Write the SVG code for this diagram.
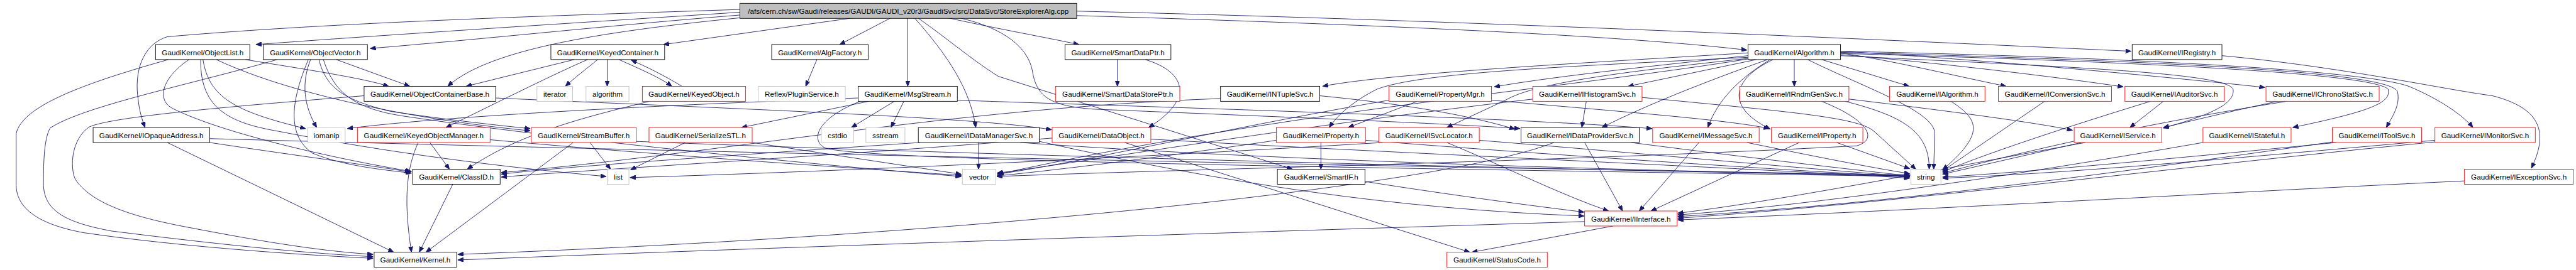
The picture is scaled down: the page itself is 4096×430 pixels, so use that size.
<svg xmlns="http://www.w3.org/2000/svg" width="4096" height="430" viewBox="0 0 4096 430">
<defs>
<style>
.n rect{fill:#ffffff;stroke-width:1}
.nb rect{stroke:#000000}
.nr rect{stroke:#ff0000}
.ng rect{stroke:#bfbfbf}
.nm rect{fill:#bfbfbf;stroke:#000000}
.n text{font-family:"Liberation Sans",Arial,Helvetica,sans-serif;font-size:13.2px;fill:#000000;text-anchor:middle}
.e path{fill:none;stroke:#191970;stroke-width:1;marker-end:url(#a)}
</style>
<marker id="a" markerUnits="userSpaceOnUse" markerWidth="11" markerHeight="8" refX="10" refY="4" orient="auto"><path d="M0,0 L10,4 L0,8 z" fill="#191970" stroke="#191970" stroke-width="1"/></marker>
</defs>
<rect x="0" y="0" width="4096" height="430" fill="#ffffff"/>
<g transform="scale(0.88658)">
<g id="edges" class="e">
<path d="M1327,22 C1050,40 700,62 459,80"/>
<path d="M1327,27 C1100,45 850,72 664,87"/>
<path d="M1531,32 L1190,80"/>
<path d="M1598,32 L1506,80"/>
<path d="M1628,32 L1628,155"/>
<path d="M1640,32 C1700,100 1740,160 1750,229"/>
<path d="M1700,32 C1780,50 1880,68 1935,80"/>
<path d="M1931,28 C2400,42 2900,62 3133,90"/>
<path d="M1931,20 C2600,36 3300,68 3822,92"/>
<path d="M1327,17 C1000,28 600,40 300,66 C255,80 240,130 248,180 C250,200 255,215 260,229"/>
<path d="M1327,32 C1100,55 880,85 803,155"/>
<path d="M1646,32 C1700,70 1740,105 1790,137 L2318,304"/>
<path d="M1720,32 C1800,50 1845,85 1852,130 C1860,175 1885,190 1960,196 C2300,210 2600,222 2726,231"/>
<path d="M889,176 C1300,195 1750,210 1886,233"/>
<path d="M302,107 C150,150 40,190 29,240 L29,333 C30,380 80,405 150,418 C300,440 500,456 669,464"/>
<path d="M339,107 C290,140 280,180 310,195 C400,240 600,285 738,308"/>
<path d="M360,107 C358,200 420,222 500,236 C700,275 900,300 1087,317"/>
<path d="M364,107 C375,175 420,200 548,231"/>
<path d="M388,107 C500,160 700,210 951,235"/>
<path d="M440,107 C550,125 650,140 697,155"/>
<path d="M497,107 C350,150 150,190 90,230 C78,250 78,300 78,333 C80,380 120,400 200,415 C400,440 550,455 669,461"/>
<path d="M557,107 C540,150 545,190 568,229"/>
<path d="M553,107 C518,190 518,245 560,275 C620,300 700,306 738,311"/>
<path d="M580,107 C600,170 640,195 720,208 C1000,250 1500,300 1724,317"/>
<path d="M572,107 C585,160 620,180 700,200 C800,215 900,226 951,231"/>
<path d="M603,107 L735,155"/>
<path d="M653,172 C400,192 200,210 160,228 C128,250 125,300 135,322 C160,360 220,385 320,405 C450,430 560,450 669,457"/>
<path d="M1030,107 L836,155"/>
<path d="M1054,107 C1000,130 900,180 800,229"/>
<path d="M1072,107 C1050,125 1030,140 1014,155"/>
<path d="M1089,107 L1089,155"/>
<path d="M1110,107 C1150,125 1185,140 1205,155"/>
<path d="M1223,155 C1190,135 1160,120 1132,108"/>
<path d="M1165,182 C1050,210 930,240 838,304"/>
<path d="M1465,107 L1445,155"/>
<path d="M1604,182 L1527,229"/>
<path d="M1621,182 L1598,229"/>
<path d="M1558,182 L1330,229"/>
<path d="M1717,180 C2000,190 2700,210 2963,231"/>
<path d="M1543,182 C1470,210 1450,250 1480,266 C1560,290 2500,302 3425,317"/>
<path d="M1539,176 C1200,188 800,208 623,231"/>
<path d="M1229,256 L1131,305"/>
<path d="M1349,256 L1724,313"/>
<path d="M1755,256 L1755,304"/>
<path d="M1830,256 C2300,290 3000,308 3425,316"/>
<path d="M1864,254 C2200,330 2500,375 2841,388"/>
<path d="M1650,256 C1300,280 1000,300 899,313"/>
<path d="M2017,256 L2636,453"/>
<path d="M1887,248 C1500,280 1100,302 899,318"/>
<path d="M2064,250 C2500,275 3100,300 3425,320"/>
<path d="M2369,256 L2369,304"/>
<path d="M2449,252 C2800,280 3200,305 3425,318"/>
<path d="M2289,252 C2100,280 1900,305 1788,316"/>
<path d="M2595,256 C2700,300 2800,350 2885,379"/>
<path d="M2653,252 C3000,280 3200,300 3425,317"/>
<path d="M2480,256 C2000,285 1500,308 1130,319"/>
<path d="M2542,182 L2418,229"/>
<path d="M2675,180 C2900,200 3100,215 3173,231"/>
<path d="M2491,180 C2200,230 1950,290 1788,313"/>
<path d="M2845,182 L2837,229"/>
<path d="M2945,175 C3200,200 3330,210 3360,235 L3436,304"/>
<path d="M2749,178 C2300,230 1950,290 1788,311"/>
<path d="M2367,172 C2550,190 2650,212 2717,232"/>
<path d="M2189,177 C1700,195 1300,275 899,310"/>
<path d="M2842,256 L2910,379"/>
<path d="M2787,256 C2600,330 1800,420 821,457"/>
<path d="M2925,256 C3150,285 3300,302 3425,316"/>
<path d="M3047,256 L2940,379"/>
<path d="M3133,256 C3250,280 3350,300 3425,312"/>
<path d="M3227,256 L2961,379"/>
<path d="M3294,256 L3425,303"/>
<path d="M3135,95 C2900,110 2500,130 2372,155"/>
<path d="M3135,100 C3000,115 2800,135 2680,156"/>
<path d="M3150,107 L2920,155"/>
<path d="M3170,107 C3050,150 2950,190 2873,229"/>
<path d="M3175,107 C3120,140 3080,180 3063,229"/>
<path d="M3180,107 C3110,140 3090,190 3175,232"/>
<path d="M3218,107 L3218,155"/>
<path d="M3267,107 L3424,155"/>
<path d="M3242,107 C3350,160 3470,200 3470,240 L3468,304"/>
<path d="M3301,95 C3400,110 3500,135 3598,155"/>
<path d="M3301,98 C3500,115 3700,140 3808,156"/>
<path d="M3301,92 C3600,110 3900,140 4062,157"/>
<path d="M3301,100 C3700,120 3990,130 4005,160 C4010,190 3950,210 3880,230"/>
<path d="M3301,96 C3800,110 4250,130 4283,160 C4290,185 4250,200 4112,229"/>
<path d="M3301,94 C3900,110 4290,130 4300,165 C4305,190 4290,210 4280,229"/>
<path d="M3301,92 C3900,105 4250,130 4320,155 C4380,180 4420,210 4435,229"/>
<path d="M3985,100 C4200,120 4380,160 4470,172 C4560,195 4570,240 4540,302"/>
<path d="M3135,103 C2800,120 2550,130 2470,160 C2430,180 2400,205 2384,229"/>
<path d="M3135,105 C2900,130 2750,150 2700,180 L2595,229"/>
<path d="M3135,106 C2800,160 2300,200 1790,313"/>
<path d="M3309,182 C3420,210 3460,240 3460,304"/>
<path d="M3316,178 C3500,200 3650,220 3717,234"/>
<path d="M3267,182 C3350,215 3370,250 3330,262 C2800,290 2100,305 1788,317"/>
<path d="M3499,182 C3550,215 3560,240 3484,305"/>
<path d="M3667,182 L3484,307"/>
<path d="M3857,182 C3700,230 3550,280 3484,309"/>
<path d="M3880,182 L3820,229"/>
<path d="M4101,182 C3800,230 3600,280 3484,311"/>
<path d="M4085,182 C4000,200 3940,215 3880,229"/>
<path d="M3733,256 L3484,313"/>
<path d="M3740,256 C3500,300 3200,360 3009,383"/>
<path d="M3951,256 C3700,300 3300,365 3009,386"/>
<path d="M4183,255 C3800,310 3400,365 3009,389"/>
<path d="M4190,256 C3900,285 3600,312 3484,318"/>
<path d="M4367,255 C3900,300 3400,365 3009,392"/>
<path d="M4367,252 C4000,285 3700,312 3484,320"/>
<path d="M4420,325 C4000,345 3500,375 3009,395"/>
<path d="M2448,326 C2600,350 2750,370 2841,381"/>
<path d="M2004,107 L2004,155"/>
<path d="M2054,107 C2130,130 2140,180 2060,229"/>
<path d="M300,256 L706,453"/>
<path d="M376,249 C1500,280 2800,305 3425,314"/>
<path d="M376,256 C500,275 650,295 736,309"/>
<path d="M750,256 C735,290 720,340 738,453"/>
<path d="M771,256 L806,304"/>
<path d="M879,251 C1200,280 1500,300 1724,315"/>
<path d="M1028,256 L764,453"/>
<path d="M1058,256 L1095,304"/>
<path d="M1141,254 C1800,280 2800,305 3425,316"/>
<path d="M812,331 L752,453"/>
<path d="M2842,398 C2300,415 1500,440 821,467"/>
<path d="M2893,406 L2640,453"/>
</g>
<g id="node-main" class="n nm"><rect x="1327" y="6" width="604" height="27"/><text x="1629" y="24.8">/afs/cern.ch/sw/Gaudi/releases/GAUDI/GAUDI_v20r3/GaudiSvc/src/DataSvc/StoreExplorerAlg.cpp</text></g>
<g id="node-objlist" class="n nb"><rect x="279" y="80" width="169" height="27"/><text x="363.5" y="98.8">GaudiKernel/ObjectList.h</text></g>
<g id="node-objvec" class="n nb"><rect x="472" y="80" width="187" height="27"/><text x="565.5" y="98.8">GaudiKernel/ObjectVector.h</text></g>
<g id="node-keyedcont" class="n nb"><rect x="988" y="80" width="204" height="27"/><text x="1090" y="98.8">GaudiKernel/KeyedContainer.h</text></g>
<g id="node-algfactory" class="n nb"><rect x="1384" y="80" width="173" height="27"/><text x="1470.5" y="98.8">GaudiKernel/AlgFactory.h</text></g>
<g id="node-smartdataptr" class="n nb"><rect x="1910" y="80" width="190" height="27"/><text x="2005" y="98.8">GaudiKernel/SmartDataPtr.h</text></g>
<g id="node-algorithm" class="n nb"><rect x="3135" y="80" width="166" height="27"/><text x="3218" y="98.8">GaudiKernel/Algorithm.h</text></g>
<g id="node-iregistry" class="n nb"><rect x="3824" y="80" width="161" height="27"/><text x="3904.5" y="98.8">GaudiKernel/IRegistry.h</text></g>
<g id="node-objcontbase" class="n nb"><rect x="653" y="155" width="236" height="27"/><text x="771" y="173.8">GaudiKernel/ObjectContainerBase.h</text></g>
<g id="node-iterator" class="n ng"><rect x="963" y="155" width="64" height="27"/><text x="995" y="173.8">iterator</text></g>
<g id="node-algostd" class="n ng"><rect x="1051" y="155" width="77" height="27"/><text x="1089.5" y="173.8">algorithm</text></g>
<g id="node-keyedobj" class="n nr"><rect x="1152" y="155" width="185" height="27"/><text x="1244.5" y="173.8">GaudiKernel/KeyedObject.h</text></g>
<g id="node-pluginsvc" class="n ng"><rect x="1360" y="155" width="156" height="27"/><text x="1438" y="173.8">Reflex/PluginService.h</text></g>
<g id="node-msgstream" class="n nb"><rect x="1539" y="155" width="178" height="27"/><text x="1628" y="173.8">GaudiKernel/MsgStream.h</text></g>
<g id="node-smartdatastoreptr" class="n nr"><rect x="1893" y="155" width="223" height="27"/><text x="2004.5" y="173.8">GaudiKernel/SmartDataStorePtr.h</text></g>
<g id="node-intuplesvc" class="n nb"><rect x="2189" y="155" width="178" height="27"/><text x="2278" y="173.8">GaudiKernel/INTupleSvc.h</text></g>
<g id="node-propertymgr" class="n nr"><rect x="2491" y="155" width="184" height="27"/><text x="2583" y="173.8">GaudiKernel/PropertyMgr.h</text></g>
<g id="node-ihistogramsvc" class="n nr"><rect x="2749" y="155" width="196" height="27"/><text x="2847" y="173.8">GaudiKernel/IHistogramSvc.h</text></g>
<g id="node-irndmgensvc" class="n nr"><rect x="3120" y="155" width="196" height="27"/><text x="3218" y="173.8">GaudiKernel/IRndmGenSvc.h</text></g>
<g id="node-ialgorithm" class="n nr"><rect x="3389" y="155" width="171" height="27"/><text x="3474.5" y="173.8">GaudiKernel/IAlgorithm.h</text></g>
<g id="node-iconversionsvc" class="n nr"><rect x="3584" y="155" width="203" height="27"/><text x="3685.5" y="173.8">GaudiKernel/IConversionSvc.h</text></g>
<g id="node-iauditorsvc" class="n nr"><rect x="3811" y="155" width="178" height="27"/><text x="3900" y="173.8">GaudiKernel/IAuditorSvc.h</text></g>
<g id="node-ichronostatsvc" class="n nr"><rect x="4064" y="155" width="203" height="27"/><text x="4165.5" y="173.8">GaudiKernel/IChronoStatSvc.h</text></g>
<g id="node-iopaqueaddress" class="n nb"><rect x="167" y="229" width="209" height="27"/><text x="271.5" y="247.8">GaudiKernel/IOpaqueAddress.h</text></g>
<g id="node-iomanip" class="n ng"><rect x="552" y="229" width="67" height="27"/><text x="585.5" y="247.8">iomanip</text></g>
<g id="node-keyedobjmgr" class="n nr"><rect x="641" y="229" width="238" height="27"/><text x="760" y="247.8">GaudiKernel/KeyedObjectManager.h</text></g>
<g id="node-streambuffer" class="n nr"><rect x="953" y="229" width="188" height="27"/><text x="1047" y="247.8">GaudiKernel/StreamBuffer.h</text></g>
<g id="node-serializestl" class="n nr"><rect x="1164" y="229" width="185" height="27"/><text x="1256.5" y="247.8">GaudiKernel/SerializeSTL.h</text></g>
<g id="node-cstdio" class="n ng"><rect x="1473" y="229" width="58" height="27"/><text x="1502" y="247.8">cstdio</text></g>
<g id="node-sstream" class="n ng"><rect x="1553" y="229" width="70" height="27"/><text x="1588" y="247.8">sstream</text></g>
<g id="node-idatamanagersvc" class="n nb"><rect x="1647" y="229" width="217" height="27"/><text x="1755.5" y="247.8">GaudiKernel/IDataManagerSvc.h</text></g>
<g id="node-dataobject" class="n nr"><rect x="1887" y="229" width="177" height="27"/><text x="1975.5" y="247.8">GaudiKernel/DataObject.h</text></g>
<g id="node-property" class="n nr"><rect x="2289" y="229" width="160" height="27"/><text x="2369" y="247.8">GaudiKernel/Property.h</text></g>
<g id="node-isvclocator" class="n nr"><rect x="2473" y="229" width="180" height="27"/><text x="2563" y="247.8">GaudiKernel/ISvcLocator.h</text></g>
<g id="node-idataprovidersvc" class="n nb"><rect x="2728" y="229" width="212" height="27"/><text x="2834" y="247.8">GaudiKernel/IDataProviderSvc.h</text></g>
<g id="node-imessagesvc" class="n nr"><rect x="2964" y="229" width="191" height="27"/><text x="3059.5" y="247.8">GaudiKernel/IMessageSvc.h</text></g>
<g id="node-iproperty" class="n nr"><rect x="3177" y="229" width="164" height="27"/><text x="3259" y="247.8">GaudiKernel/IProperty.h</text></g>
<g id="node-iservice" class="n nr"><rect x="3720" y="229" width="157" height="27"/><text x="3798.5" y="247.8">GaudiKernel/IService.h</text></g>
<g id="node-istateful" class="n nr"><rect x="3951" y="229" width="158" height="27"/><text x="4030" y="247.8">GaudiKernel/IStateful.h</text></g>
<g id="node-itoolsvc" class="n nr"><rect x="4183" y="229" width="160" height="27"/><text x="4263" y="247.8">GaudiKernel/IToolSvc.h</text></g>
<g id="node-imonitorsvc" class="n nr"><rect x="4367" y="229" width="180" height="27"/><text x="4457" y="247.8">GaudiKernel/IMonitorSvc.h</text></g>
<g id="node-classid" class="n nb"><rect x="740" y="304" width="157" height="27"/><text x="818.5" y="322.8">GaudiKernel/ClassID.h</text></g>
<g id="node-list" class="n ng"><rect x="1089" y="304" width="39" height="27"/><text x="1108.5" y="322.8">list</text></g>
<g id="node-vector" class="n ng"><rect x="1726" y="304" width="60" height="27"/><text x="1756" y="322.8">vector</text></g>
<g id="node-smartif" class="n nb"><rect x="2291" y="304" width="157" height="27"/><text x="2369.5" y="322.8">GaudiKernel/SmartIF.h</text></g>
<g id="node-string" class="n ng"><rect x="3427" y="304" width="54" height="27"/><text x="3454" y="322.8">string</text></g>
<g id="node-iexceptionsvc" class="n nr"><rect x="4420" y="304" width="195" height="27"/><text x="4517.5" y="322.8">GaudiKernel/IExceptionSvc.h</text></g>
<g id="node-iinterface" class="n nr"><rect x="2842" y="379" width="166" height="27"/><text x="2925" y="397.8">GaudiKernel/IInterface.h</text></g>
<g id="node-kernel" class="n nb"><rect x="671" y="453" width="148" height="27"/><text x="745" y="471.8">GaudiKernel/Kernel.h</text></g>
<g id="node-statuscode" class="n nr"><rect x="2595" y="453" width="180" height="27"/><text x="2685" y="471.8">GaudiKernel/StatusCode.h</text></g>
</g>
</svg>
